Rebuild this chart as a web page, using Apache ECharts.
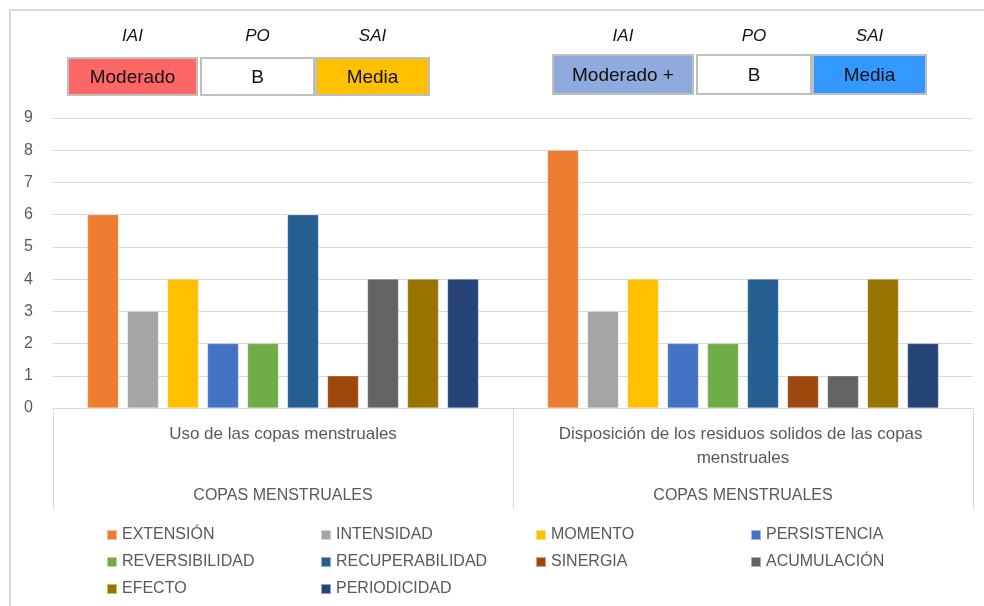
<!DOCTYPE html>
<html>
<head>
<meta charset="utf-8">
<script src="https://cdn.jsdelivr.net/npm/echarts@6/dist/echarts.min.js"></script>
<style>
  html, body { margin: 0; padding: 0; background: #fff; }
  #chart { width: 984px; height: 606px; }
</style>
</head>
<body>
<div id="chart"></div>
<script>
// Categories and grouping labels
const categories = ['Uso de las copas menstruales', 'Disposición de los residuos solidos de las copas menstruales'];
const groupLabels = ['COPAS MENSTRUALES', 'COPAS MENSTRUALES'];

// Series names and values (one value per category)
const seriesNames = ['EXTENSIÓN', 'INTENSIDAD', 'MOMENTO', 'PERSISTENCIA', 'REVERSIBILIDAD',
  'RECUPERABILIDAD', 'SINERGIA', 'ACUMULACIÓN', 'EFECTO', 'PERIODICIDAD'];
const extension = [6, 8];
const intensidad = [3, 3];
const momento = [4, 4];
const persistencia = [2, 2];
const reversibilidad = [2, 2];
const recuperabilidad = [6, 4];
const sinergia = [1, 1];
const acumulacion = [4, 1];
const efecto = [4, 4];
const periodicidad = [4, 2];

// Rating header texts above each category
const ratingHeaders = ['IAI', 'PO', 'SAI'];
const ratingsUso = ['Moderado', 'B', 'Media'];
const ratingsDisposicion = ['Moderado +', 'B', 'Media'];

const seriesValues = [extension, intensidad, momento, persistencia, reversibilidad,
  recuperabilidad, sinergia, acumulacion, efecto, periodicidad];
const palette = ['#ed7d31', '#a5a5a5', '#ffc000', '#4472c4', '#70ad47',
  '#255e91', '#9e480e', '#636363', '#997300', '#264478'];

const FONT = '"Liberation Sans", Arial, sans-serif';
const TXT = '#595959';

// Rating boxes: geometry and fill for each cell
const boxLayout = [
  { x: 68, y: 58, w: 129, h: 37, fill: '#ff6666' },
  { x: 201, y: 58, w: 113, h: 37, fill: '#ffffff' },
  { x: 316, y: 58, w: 113, h: 37, fill: '#ffc000' },
  { x: 553, y: 55, w: 140, h: 39, fill: '#8faadc' },
  { x: 697, y: 55, w: 114, h: 39, fill: '#ffffff' },
  { x: 813, y: 55, w: 113, h: 39, fill: '#3399ff' }
];
const boxTexts = ratingsUso.concat(ratingsDisposicion);

const graphics = [{
  type: 'rect',
  shape: { x: 10, y: 10, width: 1000, height: 1000 },
  style: { fill: 'none', stroke: '#d9d9d9', lineWidth: 2 },
  silent: true
}];
boxLayout.forEach((b, i) => {
  graphics.push({
    type: 'rect',
    shape: { x: b.x, y: b.y, width: b.w, height: b.h },
    style: { fill: b.fill, stroke: '#bfbfbf', lineWidth: 2 }
  });
  graphics.push({
    type: 'text',
    x: b.x + b.w / 2, y: b.y + b.h / 2 + 1,
    style: { text: boxTexts[i], fill: '#111', font: '19px ' + FONT, textAlign: 'center', textVerticalAlign: 'middle' }
  });
  graphics.push({
    type: 'text',
    x: b.x + b.w / 2, y: 36,
    style: { text: ratingHeaders[i % 3], fill: '#111', font: 'italic 17px ' + FONT, textAlign: 'center', textVerticalAlign: 'middle' }
  });
});

// Legend laid out as four columns
const legendColumns = [
  ['EXTENSIÓN', 'REVERSIBILIDAD', 'EFECTO'],
  ['INTENSIDAD', 'RECUPERABILIDAD', 'PERIODICIDAD'],
  ['MOMENTO', 'SINERGIA'],
  ['PERSISTENCIA', 'ACUMULACIÓN']
];
const legendLeft = [106, 320, 535, 750];
const legends = legendColumns.map((col, i) => ({
  orient: 'vertical',
  left: legendLeft[i],
  top: 527,
  padding: 0,
  data: col,
  icon: 'rect',
  itemWidth: 10,
  itemHeight: 10,
  itemGap: 11,
  selectedMode: false,
  textStyle: { fontFamily: FONT, fontSize: 16, color: TXT, lineHeight: 16 }
}));

const chart = echarts.init(document.getElementById('chart'), null, { renderer: 'canvas' });
chart.setOption({
  backgroundColor: '#ffffff',
  animation: false,
  graphic: graphics,
  legend: legends,
  grid: { left: 53, right: 11, top: 118, bottom: 198, containLabel: false },
  xAxis: [{
    type: 'category',
    data: categories,
    position: 'bottom',
    axisLine: { show: true, lineStyle: { color: '#d9d9d9', width: 1 } },
    axisTick: { show: true, length: 101, lineStyle: { color: '#d9d9d9', width: 1 } },
    axisLabel: {
      interval: 0, margin: 14, width: 420, overflow: 'break',
      fontFamily: FONT, fontSize: 17, color: TXT, lineHeight: 24
    }
  }, {
    type: 'category',
    data: groupLabels,
    position: 'bottom',
    axisLine: { show: false },
    axisTick: { show: false },
    axisLabel: { interval: 0, margin: 79, fontFamily: FONT, fontSize: 16, color: TXT, lineHeight: 18 }
  }],
  yAxis: {
    type: 'value',
    min: 0, max: 9, interval: 1,
    axisLine: { show: false },
    axisTick: { show: false },
    axisLabel: { margin: 20, fontFamily: FONT, fontSize: 16, color: TXT },
    splitLine: { lineStyle: { color: '#d9d9d9', width: 1 } }
  },
  series: seriesNames.map((name, i) => ({
    name: name,
    type: 'bar',
    xAxisIndex: 0,
    data: seriesValues[i],
    barGap: '29%',
    barCategoryGap: '15%',
    itemStyle: { color: palette[i], borderColor: 'rgba(255,255,255,0.5)', borderWidth: 0.5 }
  }))
});
</script>
</body>
</html>
